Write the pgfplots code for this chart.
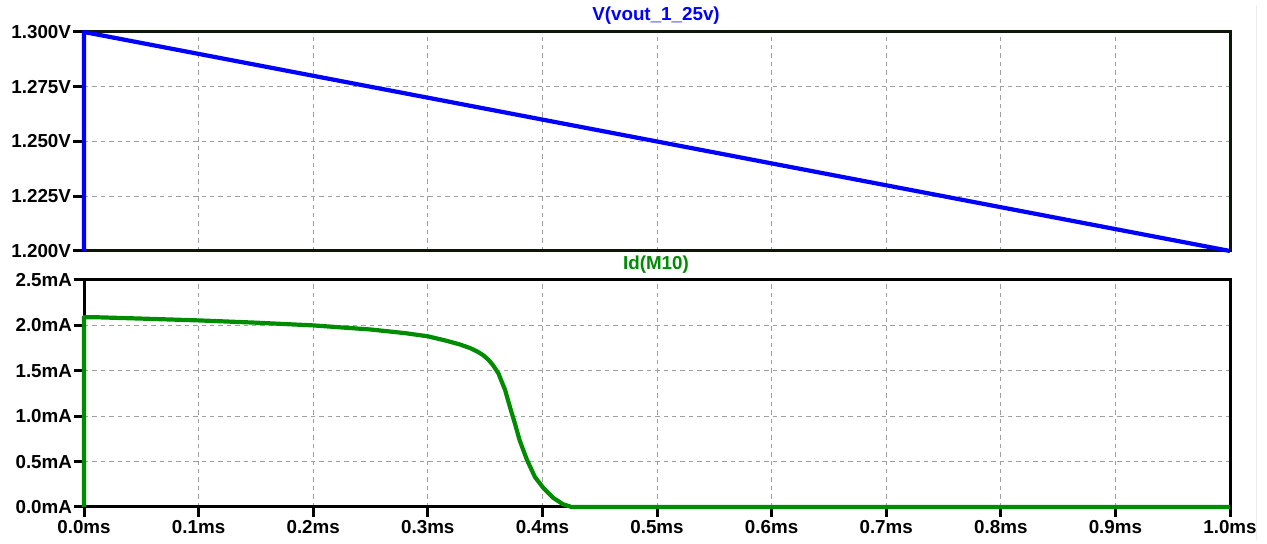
\documentclass[border=0pt]{standalone}
\usepackage{pgfplots}
\pgfplotsset{compat=1.18}
\usepackage{fontspec}
\setmainfont{Liberation Sans}
\definecolor{vblue}{RGB}{0,0,255}
\definecolor{igreen}{RGB}{0,140,0}
\definecolor{framedark}{RGB}{14,22,10}

\pgfplotsset{
  wave/.style={
    scale only axis, width=573pt,
    xmin=0, xmax=1, clip=false,
    axis line style={line width=1.5pt},
    grid=major,
    grid style={gray!75, line width=0.5pt, dash pattern=on 2.2pt off 2pt},
    tick align=outside, major tick length=5.5pt,
    tick style={line width=1.5pt, black},
    ytick pos=left, xtick pos=bottom,
    tick label style={font=\fontsize{9.4}{10}\selectfont\bfseries, inner sep=0.8pt},
    xtick={0,0.1,0.2,0.3,0.4,0.5,0.6,0.7,0.8,0.9,1.0},
  },
}

\begin{document}
\begin{tikzpicture}
\path[use as bounding box] (0,0) rectangle (633.5pt,-272pt);
\draw[gray!15, line width=0.6pt] (628.4pt,-2.5pt) -- (628.4pt,-270pt);

% output voltage
\begin{axis}[wave,
  at={(42pt,-16pt)}, anchor=north west, height=109.5pt,
  axis line style={line width=1.5pt, framedark},
  ymin=1.2, ymax=1.3,
  ytick={1.2,1.225,1.25,1.275,1.3},
  yticklabels={1.200V,1.225V,1.250V,1.275V,1.300V},
  xticklabels={}, xtick style={draw=none},
]
\addplot[vblue, line width=2.1pt, line join=round] coordinates {
  (0,1.2) (0,1.3) (1,1.2)
};
\end{axis}

% drain current of M10
\begin{axis}[wave,
  at={(42pt,-140pt)}, anchor=north west, height=113.5pt,
  ymin=0, ymax=2.5,
  ytick={0,0.5,1,1.5,2,2.5},
  yticklabels={0.0mA,0.5mA,1.0mA,1.5mA,2.0mA,2.5mA},
  xticklabels={0.0ms,0.1ms,0.2ms,0.3ms,0.4ms,0.5ms,0.6ms,0.7ms,0.8ms,0.9ms,1.0ms},
  major tick length=5pt,
  xticklabel style={yshift=-0.8pt},
]
\addplot[igreen, line width=2.1pt, line join=round] coordinates {
  (0,0) (0,2.09) (0.01,2.09) (0.05,2.075) (0.1,2.055) (0.15,2.03)
  (0.2,2.0) (0.25,1.955) (0.28,1.915) (0.3,1.88) (0.3165,1.83)
  (0.328,1.79) (0.337,1.75) (0.3435,1.71) (0.3485,1.67) (0.353,1.62)
  (0.357,1.56) (0.3617,1.47) (0.3645,1.38) (0.3674,1.29) (0.3717,1.10)
  (0.376,0.92) (0.380,0.74) (0.3835,0.62) (0.3865,0.52) (0.3935,0.33)
  (0.4008,0.21) (0.4095,0.10) (0.418,0.03) (0.4255,0.0) (1,0)
};
\end{axis}

\node[font=\fontsize{9.4}{10}\selectfont\bfseries, text=vblue] at (328pt,-8pt) {V(vout\_1\_25v)};
\node[font=\fontsize{9.4}{10}\selectfont\bfseries, text=igreen] at (328pt,-132.5pt) {Id(M10)};
\end{tikzpicture}
\end{document}
